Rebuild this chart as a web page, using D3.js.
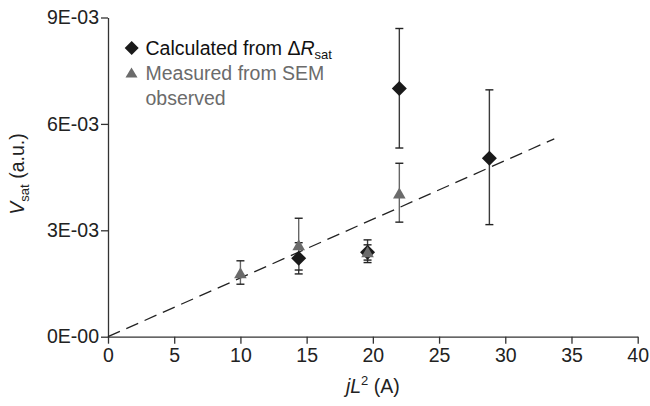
<!DOCTYPE html>
<html lang="en">
<head>
    <meta charset="UTF-8">
    <title>Vsat vs jL2</title>
    <script src="https://d3js.org/d3.v7.min.js"></script>
    <style>
        body { margin: 0; background: #fff; }
        svg text { font-family: "Liberation Sans", Arial, Helvetica, sans-serif; }
        .axis path, .axis line { stroke: #333; stroke-width: 1.3; }
        .axis text { font-size: 19.5px; fill: #222; }
    </style>
</head>
<body>
    <div id="chart"></div>
    <script>
        // calculated from delta R_sat (black diamonds)
        const calcX = [14.4, 19.6, 22.0, 28.8];
        const calcY = [2.21e-3, 2.38e-3, 7.0e-3, 5.03e-3];
        const calcLo = [1.77e-3, 2.09e-3, 5.32e-3, 3.16e-3];
        const calcHi = [2.65e-3, 2.73e-3, 8.69e-3, 6.96e-3];

        // measured from SEM (grey triangles)
        const measX = [10.0, 14.4, 19.6, 22.0];
        const measY = [1.79e-3, 2.58e-3, 2.38e-3, 4.04e-3];
        const measLo = [1.48e-3, 1.88e-3, 2.16e-3, 3.23e-3];
        const measHi = [2.14e-3, 3.34e-3, 2.59e-3, 4.89e-3];

        // dashed fit line
        const fitX = [0, 33.7];
        const fitY = [0, 5.58e-3];

        const xTicks = [0, 5, 10, 15, 20, 25, 30, 35, 40];
        const yTicks = [0, 3e-3, 6e-3, 9e-3];
        const yTickLabels = ["0E-00", "3E-03", "6E-03", "9E-03"];

        const W = 650, H = 406;
        const svg = d3.select("#chart").append("svg")
            .attr("width", W).attr("height", H);

        const x = d3.scaleLinear().domain([0, 40]).range([108, 637.7]);
        const y = d3.scaleLinear().domain([0, 9e-3]).range([336.7, 17.5]);

        // axes
        svg.append("g")
            .attr("class", "axis")
            .attr("transform", `translate(0,${y(0)})`)
            .call(d3.axisBottom(x).tickValues(xTicks).tickSize(7).tickPadding(4).tickSizeOuter(0));

        svg.append("g")
            .attr("class", "axis")
            .attr("transform", `translate(${x(0)},0)`)
            .call(d3.axisLeft(y).tickValues(yTicks).tickSize(7).tickPadding(2).tickSizeOuter(0)
                .tickFormat((d, i) => yTickLabels[i]));

        svg.selectAll(".axis text").attr("font-family", null);

        // axis titles
        const xt = svg.append("text")
            .attr("x", x(20)).attr("y", 393)
            .attr("text-anchor", "middle")
            .style("font-size", "19.5px").attr("fill", "#222");
        xt.append("tspan").style("font-style", "italic").text("jL");
        xt.append("tspan").attr("dy", -8).style("font-size", "13px").text("2");
        xt.append("tspan").attr("dy", 8).text(" (A)");

        const yt = svg.append("text")
            .attr("transform", `translate(24,174) rotate(-90)`)
            .attr("text-anchor", "middle")
            .style("font-size", "19.5px").attr("fill", "#222");
        yt.append("tspan").style("font-style", "italic").text("V");
        yt.append("tspan").attr("dy", 5).style("font-size", "13px").text("sat");
        yt.append("tspan").attr("dy", -5).text(" (a.u.)");

        // fit line
        svg.append("line")
            .attr("x1", x(fitX[0])).attr("y1", y(fitY[0]))
            .attr("x2", x(fitX[1])).attr("y2", y(fitY[1]))
            .attr("stroke", "#222").attr("stroke-width", 1.3)
            .attr("stroke-dasharray", "13,7");

        const calc = calcX.map((d, i) => ({ x: d, y: calcY[i], lo: calcLo[i], hi: calcHi[i] }));
        const meas = measX.map((d, i) => ({ x: d, y: measY[i], lo: measLo[i], hi: measHi[i] }));

        function errorBars(data, lineColor) {
            const g = svg.append("g");
            data.forEach(d => {
                g.append("line")
                    .attr("x1", x(d.x)).attr("x2", x(d.x))
                    .attr("y1", y(d.lo)).attr("y2", y(d.hi))
                    .attr("stroke", lineColor).attr("stroke-width", 1.4);
                [d.lo, d.hi].forEach(v => {
                    g.append("line")
                        .attr("x1", x(d.x) - 4).attr("x2", x(d.x) + 4)
                        .attr("y1", y(v)).attr("y2", y(v))
                        .attr("stroke", "#222").attr("stroke-width", 1.4);
                });
            });
        }

        errorBars(calc, "#3a3a3a");
        errorBars(meas, "#666");

        const diamond = "M0,-7.5L7.5,0L0,7.5L-7.5,0Z";
        const triangle = "M0,-6L6.3,5L-6.3,5Z";

        svg.selectAll(".calc").data(calc).enter().append("path")
            .attr("class", "calc")
            .attr("d", diamond)
            .attr("transform", d => `translate(${x(d.x)},${y(d.y)})`)
            .attr("fill", "#1a1a1a");

        svg.selectAll(".meas").data(meas).enter().append("path")
            .attr("class", "meas")
            .attr("d", triangle)
            .attr("transform", d => `translate(${x(d.x)},${y(d.y)})`)
            .attr("fill", "#6b6b6b");

        // legend
        svg.append("path").attr("d", "M0,-7L7,0L0,7L-7,0Z")
            .attr("transform", "translate(131.7,48)").attr("fill", "#1a1a1a");
        svg.append("path").attr("d", "M0,-5.5L6,4.5L-6,4.5Z")
            .attr("transform", "translate(131.5,73)").attr("fill", "#6b6b6b");

        const l1 = svg.append("text").attr("x", 145.5).attr("y", 55)
            .style("font-size", "19.5px").attr("fill", "#111");
        l1.append("tspan").text("Calculated from \u0394");
        l1.append("tspan").style("font-style", "italic").text("R");
        l1.append("tspan").attr("dy", 4).style("font-size", "13px").text("sat");

        svg.append("text").attr("x", 145.5).attr("y", 80)
            .style("font-size", "19.5px").attr("fill", "#6b6b6b")
            .text("Measured from SEM");
        svg.append("text").attr("x", 145.5).attr("y", 105)
            .style("font-size", "19.5px").attr("fill", "#6b6b6b")
            .text("observed");
    </script>
</body>
</html>
